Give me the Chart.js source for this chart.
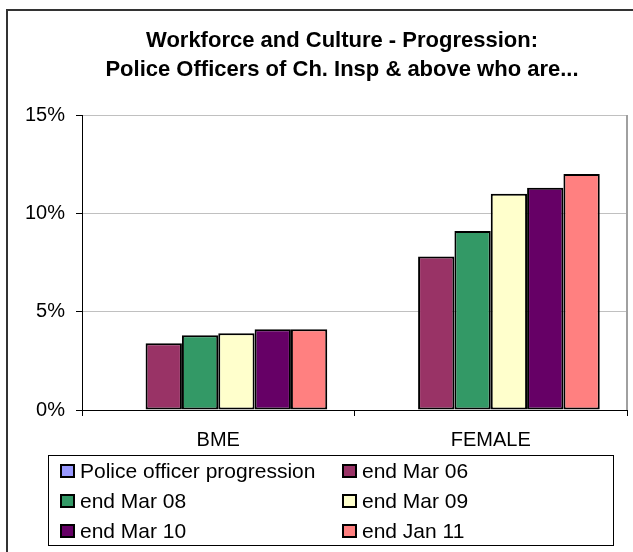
<!DOCTYPE html>
<html>
<head>
<meta charset="utf-8">
<script src="https://cdn.jsdelivr.net/npm/chart.js@4.4.1/dist/chart.umd.min.js"></script>
<style>
  html, body { margin: 0; padding: 0; background: #fff; }
  #wrap { width: 633px; height: 552px; }
</style>
</head>
<body>
<div id="wrap"><canvas id="myChart"></canvas></div>
<script>
  "use strict";
  const titleLines = [
    "Workforce and Culture - Progression:",
    "Police Officers of Ch. Insp & above who are..."
  ];
  const categories = ["BME", "FEMALE"];
  const yTicks = [0, 5, 10, 15];

  const seriesNames = ["Police officer progression", "end Mar 06", "end Mar 08", "end Mar 09", "end Mar 10", "end Jan 11"];
  const seriesColors = ["#9999FF", "#993366", "#339966", "#FFFFCC", "#660066", "#FF8080"];

  const policeOfficer = [null, null];
  const endMar06 = [3.4, 7.8];
  const endMar08 = [3.8, 9.1];
  const endMar09 = [3.9, 11.0];
  const endMar10 = [4.1, 11.3];
  const endJan11 = [4.1, 12.0];
  const seriesValues = [policeOfficer, endMar06, endMar08, endMar09, endMar10, endJan11];

  const FONT = "'Liberation Sans', Arial, sans-serif";

  // frame, title and the two column legend like the excel original
  const excelFrame = {
    id: "excelFrame",
    beforeDraw(chart) {
      const c = chart.ctx;
      c.save();
      c.fillStyle = "#fff";
      c.fillRect(0, 0, chart.width, chart.height);
      c.strokeStyle = "#333";
      c.lineWidth = 2;
      c.strokeRect(7, 10, 700, 600);
      c.restore();
    },
    beforeDatasetsDraw(chart) {
      const a = chart.chartArea;
      const c = chart.ctx;
      c.save();
      c.strokeStyle = "#a0a0a0";
      c.lineWidth = 2;
      c.beginPath();
      c.moveTo(a.right, a.top);
      c.lineTo(a.right, a.bottom);
      c.stroke();
      c.restore();
    },
    afterDraw(chart) {
      const c = chart.ctx;
      c.save();
      c.fillStyle = "#000";
      c.textAlign = "center";
      c.textBaseline = "middle";
      c.font = "bold 22px " + FONT;
      titleLines.forEach((t, i) => c.fillText(t, 342, 41 + i * 29));

      // legend box
      c.strokeStyle = "#000";
      c.lineWidth = 1;
      c.strokeRect(48.5, 455.5, 565, 90);
      c.font = "21px " + FONT;
      c.textAlign = "left";
      chart.data.datasets.forEach((ds, i) => {
        const col = i % 2, row = Math.floor(i / 2);
        const x = col === 0 ? 61 : 343;
        const y = 471 + row * 30;
        c.fillStyle = ds.backgroundColor;
        c.fillRect(x, y - 6, 13, 12);
        c.strokeStyle = "#000";
        c.lineWidth = 2;
        c.strokeRect(x, y - 6, 13, 12);
        c.fillStyle = "#000";
        c.fillText(ds.label, x + 19, y + 1);
      });
      c.restore();
    }
  };

  const ctx = document.getElementById("myChart").getContext("2d");
  const chart = new Chart(ctx, {
    type: "bar",
    data: {
      labels: categories,
      datasets: seriesNames.map((name, i) => ({
        label: name,
        data: seriesValues[i],
        backgroundColor: seriesColors[i],
        borderColor: "#000",
        borderWidth: 2,
        borderSkipped: false,
        barPercentage: 1,
        categoryPercentage: 0.8
      }))
    },
    options: {
      responsive: true,
      maintainAspectRatio: false,
      animation: false,
      layout: { padding: { left: 25, right: 6, top: 115, bottom: 100 } },
      plugins: {
        legend: { display: false },
        title: { display: false },
        tooltip: { enabled: false }
      },
      scales: {
        x: {
          afterFit: (axis) => { axis.height = 42; },
          grid: { drawOnChartArea: false, tickColor: "#000", tickLength: 6, tickWidth: 1 },
          border: { color: "#000", width: 1 },
          ticks: { color: "#000", padding: 12, font: { family: FONT, size: 20 } }
        },
        y: {
          min: 0,
          max: 15,
          afterFit: (axis) => { axis.width = 57; },
          afterBuildTicks: (axis) => { axis.ticks = yTicks.map(v => ({ value: v })); },
          grid: { color: "#c0c0c0", tickColor: "#000", tickLength: 6, lineWidth: 1 },
          border: { color: "#000", width: 1 },
          ticks: {
            color: "#000",
            padding: 11,
            font: { family: FONT, size: 20 },
            callback: (v) => v + "%"
          }
        }
      }
    },
    plugins: [excelFrame]
  });
</script>
</body>
</html>
